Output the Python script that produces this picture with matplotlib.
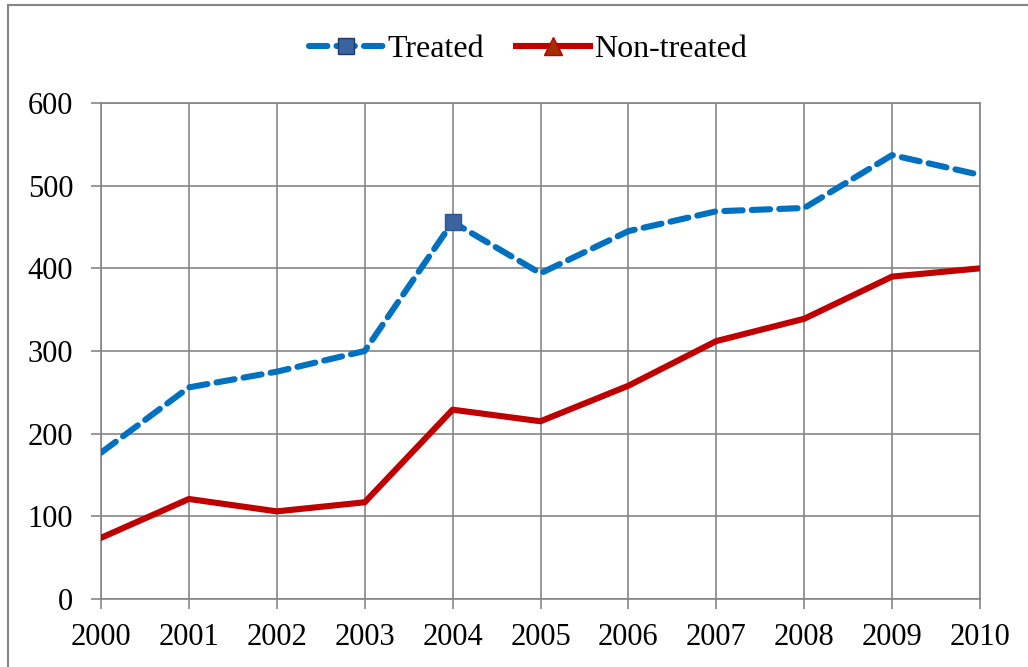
import matplotlib
matplotlib.use("Agg")
import matplotlib.pyplot as plt
from matplotlib.lines import Line2D
from matplotlib.patches import Rectangle

years = [2000, 2001, 2002, 2003, 2004, 2005, 2006, 2007, 2008, 2009, 2010]
treated = [177, 256, 275, 300, 456, 394, 445, 469, 473, 537, 513]
non_treated = [74, 121, 106, 117, 229, 215, 258, 312, 339, 390, 400]
y_ticks = [0, 100, 200, 300, 400, 500, 600]

plt.rcParams['font.family'] = ['Liberation Serif', 'DejaVu Serif']

fig = plt.figure(figsize=(10.28, 6.67), dpi=100)
ax = fig.add_axes([101/1028, 68/667, 879/1028, 496/667])

blue = '#0070C0'
red = '#C00000'
grid_c = '#868686'

ax.plot(years, treated, color=blue, lw=4.4, dashes=(3.0, 1.5), dash_capstyle='round', zorder=3)
ax.plot([years[4]], [treated[4]], marker='s', ms=12, mfc='#3A64A0', mec='#2F5590',
        ls='none', zorder=4)
ax.plot(years, non_treated, color=red, lw=4.4, zorder=3)

ax.set_xlim(2000, 2010)
ax.set_ylim(0, 600)
ax.set_xticks(years)
ax.set_yticks(y_ticks)
ax.grid(True, color=grid_c, lw=1.2)
ax.set_axisbelow(True)
for s in ax.spines.values():
    s.set_color(grid_c)
    s.set_linewidth(1.2)
ax.tick_params(axis='both', colors=grid_c, length=7, width=1.2, labelsize=22,
               labelcolor='black', direction='out')
ax.tick_params(axis='x', pad=10)
ax.tick_params(axis='y', pad=13)

handles = [
    Line2D([0], [0], color=blue, lw=4.4, dashes=(3.0, 1.5), dash_capstyle='round',
           marker='s', ms=12, mfc='#3A64A0', mec='#1F3864'),
    Line2D([0], [0], color=red, lw=4.4, marker='^', ms=13, mfc='#A33000', mec=red),
]
fig.legend(handles, ['Treated', 'Non-treated'], loc='center', bbox_to_anchor=(0.514, 0.926),
           ncol=2, frameon=False, fontsize=23, handlelength=2.3, handletextpad=0.15,
           columnspacing=1.0)

fig.patches.append(Rectangle((8/1028, -0.1), 1.2, 1.1 - 5/667, transform=fig.transFigure,
                             fill=False, edgecolor=grid_c, lw=1.5))

fig.savefig('out.png', dpi=100)
